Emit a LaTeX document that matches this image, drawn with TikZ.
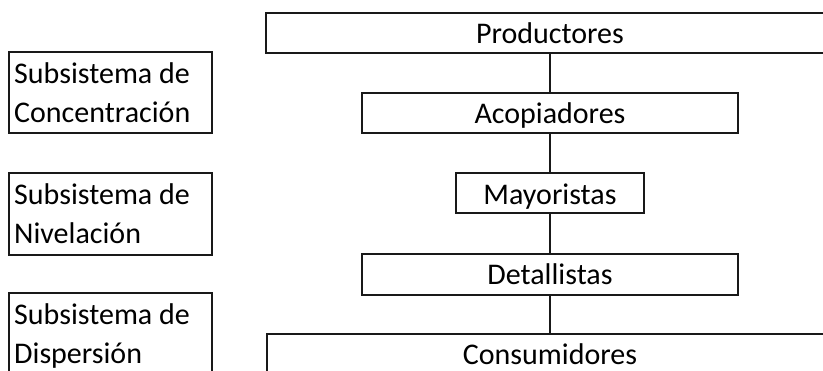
\documentclass[tikz,border=0pt]{standalone}
\usepackage{fontspec}
\setmainfont{Carlito}
\begin{document}
\begin{tikzpicture}[x=1pt,y=-1pt,
  box/.style={draw=black!90, line width=1.3pt, fill=none, inner sep=0pt, outer sep=0pt, anchor=north west},
  lbl/.style={inner sep=0pt, anchor=base, font=\fontsize{30}{39}\selectfont},
  llbl/.style={inner sep=0pt, anchor=base west, font=\fontsize{30}{39}\selectfont},
  conn/.style={draw=black!90, line width=1.3pt}]
\useasboundingbox (0,0) rectangle (823,371);
\clip (0,0) rectangle (823,371);
% right-hand chain
\node[box, minimum width=580pt, minimum height=40pt] (prodbox) at (266,13) {};
\node[lbl] (prod) at (550,44) {Productores};
\node[box, minimum width=376pt, minimum height=40pt] (acop) at (362,93) {};
\node[lbl] (acoptxt) at (550,124) {Acopiadores};
\node[box, minimum width=188pt, minimum height=40pt] (may) at (456,173) {};
\node[lbl] (maytxt) at (550,205) {Mayoristas};
\node[box, minimum width=376pt, minimum height=41pt] (det) at (362,254) {};
\node[lbl] (dettxt) at (550,285) {Detallistas};
\node[box, minimum width=580pt, minimum height=50pt] (cons) at (267,334) {};
\node[lbl] (constxt) at (550,365) {Consumidores};
% connectors
\draw[conn] (acop.north) -- (acop.north |- prodbox.south);
\draw[conn] (may.north) -- (may.north |- acop.south);
\draw[conn] (det.north) -- (det.north |- may.south);
\draw[conn] (cons.north -| det.south) -- (det.south);
% left-hand subsystem boxes
\node[box, minimum width=203pt, minimum height=81pt] (sc) at (9,52) {};
\node[llbl] (sc1) at (14,84) {Subsistema de};
\node[llbl] (sc2) at (14,123) {Concentración};
\node[box, minimum width=203pt, minimum height=82pt] (sn) at (9,173) {};
\node[llbl] (sn1) at (14,205) {Subsistema de};
\node[llbl] (sn2) at (14,244) {Nivelación};
\node[box, minimum width=203pt, minimum height=90pt] (sd) at (9,293) {};
\node[llbl] (sd1) at (14,325) {Subsistema de};
\node[llbl] (sd2) at (14,364) {Dispersión};
\end{tikzpicture}
\end{document}
